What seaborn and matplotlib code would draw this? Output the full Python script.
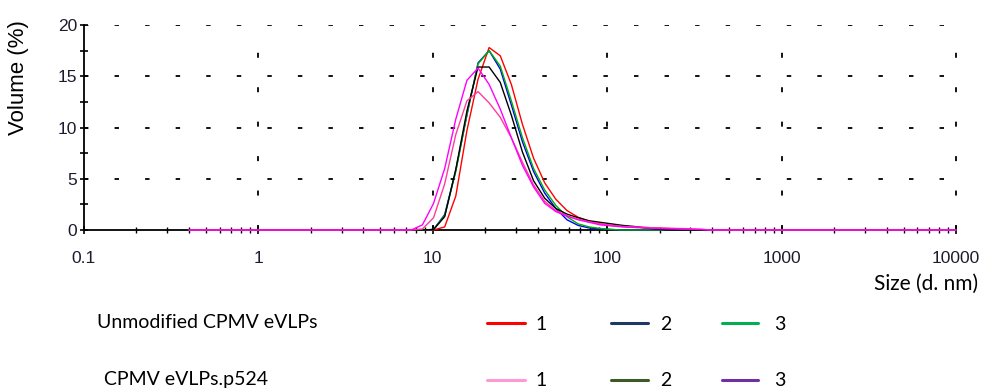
import matplotlib
matplotlib.use("Agg")
import matplotlib.pyplot as plt
from matplotlib.lines import Line2D
import seaborn as sns
import pandas as pd

# Zetasizer size bins (d. nm) covering the populated range, plus the end bins
size_nm = [0.4, 7.531, 8.721, 10.1, 11.7, 13.54, 15.69, 18.17, 21.04, 24.36,
           28.21, 32.67, 37.84, 43.82, 50.75, 58.77, 68.06, 78.82, 91.28,
           105.7, 122.4, 141.8, 164.2, 190.1, 220.2, 255.0, 295.3, 342.0,
           396.1, 10000]

# Volume (%) per record
vol_red = [0, 0, 0, 0, 0.3, 3.3, 9.7, 14.7, 17.8, 17.0,
           14.2, 10.3, 7.0, 4.6, 3.0, 1.9, 1.25, 0.85, 0.6,
           0.45, 0.35, 0.3, 0.25, 0.2, 0.15, 0.1, 0.05, 0,
           0, 0]
vol_blue = [0, 0, 0, 0.05, 1.5, 5.8, 11.2, 16.3, 17.5, 15.7,
            12.2, 8.6, 5.7, 3.6, 2.1, 1.0, 0.45, 0.2, 0.1,
            0.05, 0, 0, 0, 0, 0, 0, 0, 0,
            0, 0]
vol_green = [0, 0, 0, 0.05, 1.4, 5.7, 11.3, 16.2, 17.5, 16.0,
             12.6, 9.0, 6.0, 3.9, 2.4, 1.3, 0.6, 0.3, 0.15,
             0.05, 0, 0, 0, 0, 0, 0, 0, 0,
             0, 0]
vol_black = [0, 0, 0, 0.05, 1.3, 5.9, 11.6, 15.9, 15.9, 14.4,
             11.2, 7.6, 4.8, 3.1, 2.1, 1.55, 1.2, 0.9, 0.75,
             0.6, 0.45, 0.35, 0.2, 0.1, 0, 0, 0, 0,
             0, 0]
vol_rose = [0, 0, 0.1, 1.2, 4.5, 9.3, 12.6, 13.5, 12.4, 11.0,
            9.0, 6.6, 4.4, 2.8, 1.9, 1.4, 1.05, 0.8, 0.6,
            0.45, 0.35, 0.3, 0.25, 0.2, 0.18, 0.15, 0.12, 0.08,
            0, 0]
vol_magenta = [0, 0, 0.5, 2.6, 6.0, 10.8, 14.6, 15.8, 14.2, 11.8,
               9.0, 6.3, 4.2, 2.6, 1.8, 1.35, 1.0, 0.75, 0.5,
               0.4, 0.3, 0.25, 0.2, 0.15, 0.12, 0.1, 0.08, 0.05,
               0, 0]

series = {"r1": vol_red, "r2": vol_blue, "r3": vol_green,
          "r4": vol_black, "r5": vol_rose, "r6": vol_magenta}
trace_colors = {"r1": "#ff0000", "r2": "#0000ff", "r3": "#00b000",
                "r4": "#000000", "r5": "#ff3c9c", "r6": "#ff00ff"}

x_ticks = [0.1, 1, 10, 100, 1000, 10000]
x_tick_labels = ["0.1", "1", "10", "100", "1000", "10000"]
y_ticks = [0, 5, 10, 15, 20]

legend_groups = ["Unmodified CPMV eVLPs", "CPMV eVLPs.p524"]
legend_numbers = ["1", "2", "3"]
legend_colors = [["#ff0000", "#1f3864", "#00b050"],
                 ["#ff99d6", "#3b5a26", "#7030a0"]]

rows = []
for name, vals in series.items():
    for s, v in zip(size_nm, vals):
        rows.append({"size": s, "volume": v, "record": name})
df = pd.DataFrame(rows)

sns.set_theme(style="white")
plt.rcParams["lines.scale_dashes"] = False
plt.rcParams["font.family"] = ["Liberation Sans", "DejaVu Sans"]

fig = plt.figure(figsize=(9.85, 3.92), dpi=100)
ax = fig.add_axes([84 / 985, 1 - 230 / 392, (956 - 84) / 985, (230 - 25) / 392])

sns.lineplot(data=df, x="size", y="volume", hue="record",
             hue_order=list(series.keys()), palette=trace_colors,
             estimator=None, sort=False, linewidth=1.0, legend=False, ax=ax)
for ln in ax.get_lines():
    ln.set_clip_on(False)
    ln.set_zorder(3)

ax.set_xscale("log")
ax.set_xlim(0.1, 10000)
ax.set_ylim(0, 20)
ax.set_xticks(x_ticks)
ax.set_xticklabels(x_tick_labels)
ax.set_yticks(y_ticks)
ax.set_yticks([2.5, 7.5, 12.5, 17.5], minor=True)
ax.set_xlabel("")
ax.set_ylabel("")

for sp in ["top", "right"]:
    ax.spines[sp].set_visible(False)
for sp in ["left", "bottom"]:
    ax.spines[sp].set_color("black")
    ax.spines[sp].set_linewidth(1.3)
    ax.spines[sp].set_zorder(1)

label_color = "#1c1c2c"
ax.tick_params(axis="y", which="major", direction="inout", length=6, width=1.2,
               color="black", left=True, pad=2, labelsize=12.5, labelcolor=label_color)
ax.tick_params(axis="y", which="minor", direction="inout", length=6, width=1.2,
               color="black", left=True)
ax.tick_params(axis="x", which="major", direction="inout", length=6, width=1.2,
               color="black", bottom=True, pad=12, labelsize=12.5, labelcolor=label_color)
ax.tick_params(axis="x", which="minor", direction="inout", length=4, width=1.0,
               color="black", bottom=True)

# sparse dashed grid
ax.grid(False)
for y in [5, 10, 15, 20]:
    ax.axhline(y, color="black", linewidth=1.3, linestyle=(0, (3.2, 18.8)), zorder=0)
for x in [1, 10, 100, 1000, 10000]:
    ax.axvline(x, color="black", linewidth=1.3, linestyle=(0, (3.6, 21.2)),
               zorder=0, clip_on=False)

fig.text(19 / 985, 1 - 78 / 392, "Volume (%)", rotation=90, ha="center", va="center",
         fontsize=16, color="black")
fig.text(978 / 985, 1 - 284 / 392, "Size (d. nm)", ha="right", va="center",
         fontsize=15, family=["Lato", "DejaVu Sans"], color="black")

# group legend drawn below the plot
row_y = [323, 380]
text_x = [97, 104]
line_x = [(487, 525), (611, 648), (722, 758)]
num_x = [541, 666, 780]
for r, group in enumerate(legend_groups):
    yf = 1 - row_y[r] / 392
    fig.text(text_x[r] / 985, 1 - (row_y[r] - 1) / 392, group, ha="left", va="center",
             fontsize=14, family=["Lato", "DejaVu Sans"], color="black")
    for k, num in enumerate(legend_numbers):
        x0, x1 = line_x[k]
        fig.add_artist(Line2D([x0 / 985, x1 / 985], [yf, yf], color=legend_colors[r][k],
                              linewidth=2.2, transform=fig.transFigure))
        fig.text(num_x[k] / 985, 1 - (row_y[r] + 1) / 392, num, ha="center", va="center",
                 fontsize=14, family=["Lato", "DejaVu Sans"], color="black")

fig.savefig("out.png", dpi=100)
